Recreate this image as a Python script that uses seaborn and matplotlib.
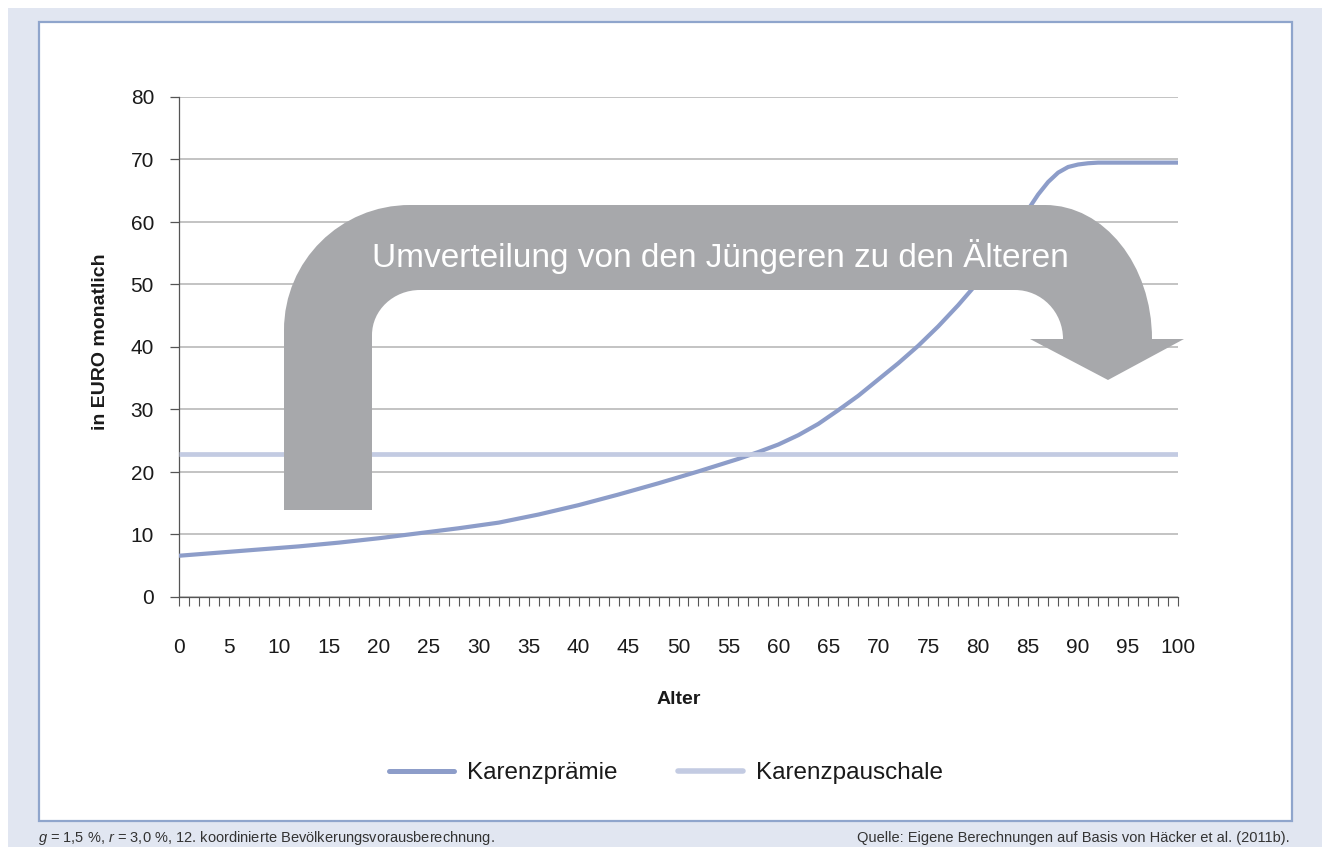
import matplotlib
matplotlib.use("Agg")
import matplotlib.pyplot as plt
import matplotlib.patches as mpatches
import matplotlib.transforms as mtransforms
from matplotlib.path import Path
from matplotlib.lines import Line2D
from matplotlib.ticker import MultipleLocator
import numpy as np
import pandas as pd
import seaborn as sns

# ---------------- data ----------------
alter = [0, 4, 8, 12, 16, 20, 24, 28, 32, 36, 40, 44, 48, 52, 56, 58, 60, 62,
         64, 66, 68, 70, 72, 74, 76, 78, 80, 82, 84, 85, 86, 87, 88, 89, 90,
         91, 92, 95, 100]
karenzpraemie = [6.6, 7.1, 7.6, 8.1, 8.7, 9.4, 10.2, 11.0, 11.9, 13.2, 14.7,
                 16.4, 18.2, 20.1, 22.1, 23.2, 24.4, 25.9, 27.7, 29.9, 32.2,
                 34.8, 37.4, 40.2, 43.3, 46.7, 50.4, 54.5, 59.0, 62.0, 64.4,
                 66.4, 67.9, 68.8, 69.2, 69.4, 69.5, 69.5, 69.5]
pausch_alter = [0, 100]
karenzpauschale = [22.9, 22.9]
series_names = ["Karenzprämie", "Karenzpauschale"]
y_ticks = [0, 10, 20, 30, 40, 50, 60, 70, 80]
x_ticks = list(range(0, 101, 5))
arrow_text = "Umverteilung von den Jüngeren zu den Älteren"
x_label = "Alter"
y_label = "in EURO monatlich"
note_left = "$\\it{g}$ = 1,5 %, $\\it{r}$ = 3,0 %, 12. koordinierte Bevölkerungsvorausberechnung."
note_right = "Quelle: Eigene Berechnungen auf Basis von Häcker et al. (2011b)."

df = pd.concat([
    pd.DataFrame({"Alter": alter, "Wert": karenzpraemie, "Serie": series_names[0]}),
    pd.DataFrame({"Alter": pausch_alter, "Wert": karenzpauschale, "Serie": series_names[1]}),
])

# ---------------- style ----------------
sns.set_style("white")
plt.rcParams["font.family"] = ["Liberation Sans", "DejaVu Sans"]
plt.rcParams["mathtext.fontset"] = "custom"
plt.rcParams["mathtext.it"] = "Liberation Sans:italic"
plt.rcParams["mathtext.rm"] = "Liberation Sans"

W, H = 1322, 847
fig = plt.figure(figsize=(W / 100, H / 100), dpi=100, facecolor="white")

def px_rect(x0, y0, x1, y1):
    return (x0 / W, 1 - y1 / H, (x1 - x0) / W, (y1 - y0) / H)

# light page background
bx, by, bw, bh = px_rect(8, 8, W, H)
fig.patches.append(mpatches.Rectangle((bx, by), bw, bh, transform=fig.transFigure,
                                      facecolor="#e1e6f1", edgecolor="none", zorder=-10))
# white panel with blue border
bx, by, bw, bh = px_rect(39, 22, 1292, 821)
fig.patches.append(mpatches.Rectangle((bx, by), bw, bh, transform=fig.transFigure,
                                      facecolor="white", edgecolor="#8fa5cc",
                                      linewidth=1.6, zorder=-9))

ax = fig.add_axes(px_rect(179, 97, 1178, 597))
ax.set_facecolor("none")

palette = {series_names[0]: "#8d9dc9", series_names[1]: "#c3cbe2"}
sns.lineplot(data=df, x="Alter", y="Wert", hue="Serie", palette=palette,
             ax=ax, legend=False, estimator=None, sort=True)
lws = {series_names[0]: 3.0, series_names[1]: 3.4}
for line, name in zip(ax.get_lines(), series_names):
    line.set_linewidth(lws[name])
    line.set_solid_capstyle("butt")
    line.set_solid_joinstyle("round")
    line.set_zorder(3)

ax.set_xlim(0, 100)
ax.set_ylim(0, 80)
ax.set_yticks(y_ticks)
ax.set_xticks(x_ticks)
ax.xaxis.set_minor_locator(MultipleLocator(1))
ax.grid(axis="y", color="#b3b3b3", linewidth=1.1, zorder=0)
ax.set_axisbelow(True)
for s in ["top", "right"]:
    ax.spines[s].set_visible(False)
for s in ["left", "bottom"]:
    ax.spines[s].set_color("#555555")
    ax.spines[s].set_linewidth(0.9)
ax.tick_params(axis="y", which="major", left=True, direction="out", length=6.5,
               width=0.9, color="#555555", pad=11.5, labelsize=15,
               labelcolor="#1a1a1a")
ax.tick_params(axis="x", which="both", bottom=True, direction="out", length=6.8,
               width=0.8, color="#555555")
ax.tick_params(axis="x", which="major", pad=23, labelsize=15, labelcolor="#1a1a1a")

ax.set_xlabel(x_label, fontsize=14, fontweight="bold", color="#1a1a1a")
ax.xaxis.set_label_coords(0.5, -0.188)
ax.set_ylabel(y_label, fontsize=14, fontweight="bold", color="#1a1a1a")
ax.yaxis.set_label_coords(-0.070, 0.51)

# ---------------- redistribution arrow (annotation, pixel geometry) ----------------
k = 0.5523
verts = [
    (284, 510),
    (284, 330),
    (284, 330 - k * 125), (410 - k * 126, 205), (410, 205),
    (1045, 205),
    (1045 + k * 107, 205), (1152, 339 - k * 134), (1152, 339),
    (1184, 339),
    (1108, 380),
    (1030, 339),
    (1063, 339),
    (1063, 339 - k * 49), (1015 + k * 48, 290), (1015, 290),
    (420, 290),
    (420 - k * 48, 290), (372, 335 - k * 45), (372, 335),
    (372, 510),
    (284, 510),
]
codes = [Path.MOVETO, Path.LINETO,
         Path.CURVE4, Path.CURVE4, Path.CURVE4,
         Path.LINETO,
         Path.CURVE4, Path.CURVE4, Path.CURVE4,
         Path.LINETO, Path.LINETO, Path.LINETO, Path.LINETO,
         Path.CURVE4, Path.CURVE4, Path.CURVE4,
         Path.LINETO,
         Path.CURVE4, Path.CURVE4, Path.CURVE4,
         Path.LINETO, Path.CLOSEPOLY]
px_trans = mtransforms.Affine2D().scale(1 / W, -1 / H).translate(0, 1) + fig.transFigure
arrow = mpatches.PathPatch(Path(verts, codes), facecolor="#a7a8ab", edgecolor="none",
                           transform=px_trans, zorder=5, clip_on=False)
ax.add_patch(arrow)
fig.text(720 / W, 1 - 256 / H, arrow_text, color="white", fontsize=24,
         ha="center", va="center", zorder=6)

# ---------------- legend ----------------
handles = [Line2D([0], [0], color=palette[n], lw=lws[n] + 0.6) for n in series_names]
fig.legend(handles, series_names, loc="center", bbox_to_anchor=(666 / W, 1 - 773 / H),
           ncol=2, frameon=False, fontsize=17.5, handlelength=2.65,
           handletextpad=0.55, columnspacing=2.5, labelcolor="#1a1a1a")

# ---------------- footnotes ----------------
fig.text(38 / W, 1 - 838 / H, note_left, fontsize=10.5, ha="left", va="center",
         color="#333333")
fig.text(1290 / W, 1 - 838 / H, note_right, fontsize=10.5, ha="right", va="center",
         color="#333333")

fig.savefig("out.png", dpi=100, facecolor=fig.get_facecolor())
